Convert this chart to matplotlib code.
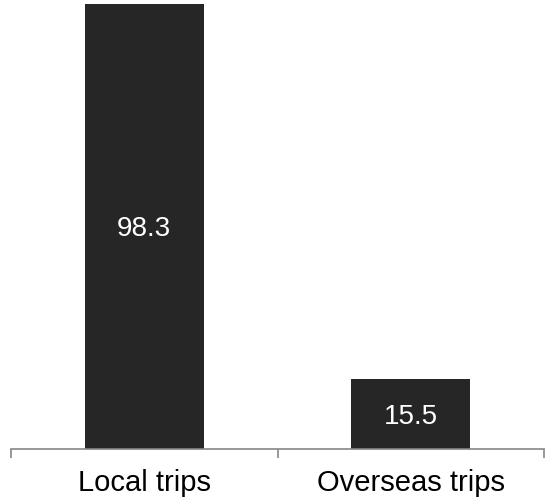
import matplotlib
matplotlib.use("Agg")
import matplotlib.pyplot as plt

# chart data
categories = ["Local trips", "Overseas trips"]
values = [98.3, 15.5]

plt.rcParams['font.family'] = ['Liberation Sans', 'DejaVu Sans']

fig = plt.figure(figsize=(5.48, 4.97), dpi=100)
# axes placed in pixel fractions to match reference
ax = fig.add_axes([11 / 548, 1 - 449 / 497, 533 / 548, 445 / 497])

x = list(range(len(categories)))
bars = ax.bar(x, values, width=0.445, color='#262626')

for xi, v in zip(x, values):
    ax.text(xi, v / 2, f"{v:.1f}", ha='center', va='center_baseline',
            color='white', fontsize=20)

ax.set_xlim(-0.5, 1.5)
ax.set_ylim(0, 98.3)

# spines: only the bottom axis line
for side in ['top', 'right', 'left']:
    ax.spines[side].set_visible(False)
ax.spines['bottom'].set_color('#868686')
ax.spines['bottom'].set_linewidth(1.2)
ax.yaxis.set_visible(False)

# category boundary ticks, labels in the middle
ax.set_xticks([-0.5, 0.5, 1.5])
ax.set_xticklabels([])
ax.set_xticks(x, minor=True)
ax.set_xticklabels(categories, minor=True, fontsize=21)
ax.tick_params(axis='x', which='major', length=6.5, width=1.2, color='#868686', direction='out')
ax.tick_params(axis='x', which='minor', length=0, pad=14.5)

fig.savefig("out.png", dpi=100)
